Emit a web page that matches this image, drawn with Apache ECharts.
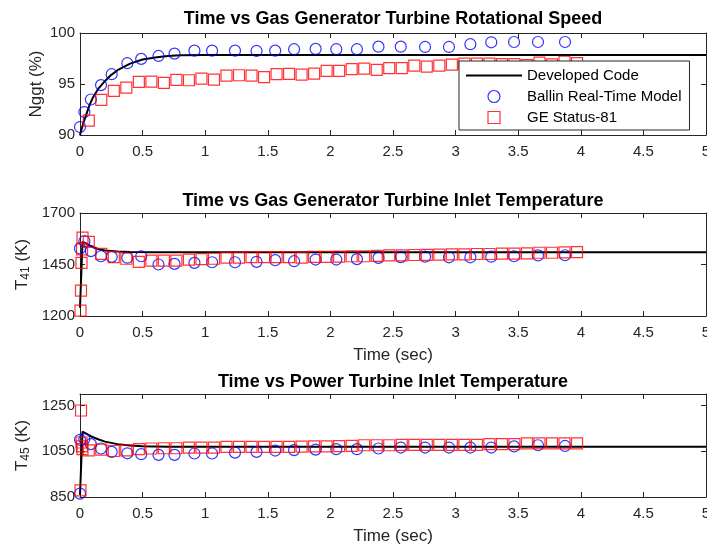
<!DOCTYPE html>
<html><head><meta charset="utf-8">
<script src="https://cdn.jsdelivr.net/npm/echarts@6/dist/echarts.min.js"></script>
<style>html,body{margin:0;padding:0;background:#fff}#c{width:707px;height:546px}</style>
</head><body><div id="c"></div>
<script>
const FONT = '"Liberation Sans", Arial, Helvetica, sans-serif';

// ---- titles / labels
const titles = ['Time vs Gas Generator Turbine Rotational Speed',
                'Time vs Gas Generator Turbine Inlet Temperature',
                'Time vs Power Turbine Inlet Temperature'];
const seriesNames = ['Developed Code', 'Ballin Real-Time Model', 'GE Status-81'];
const xTicks = [0, 0.5, 1, 1.5, 2, 2.5, 3, 3.5, 4, 4.5, 5];
const yTicks1 = [90, 95, 100];
const yTicks2 = [1200, 1450, 1700];
const yTicks3 = [850, 1050, 1250];

// ---- Developed Code (solid line)
const tCode1 = [0, 0.025, 0.05, 0.075, 0.1, 0.15, 0.2, 0.25, 0.3, 0.4, 0.5, 0.6, 0.7, 0.8, 1.0, 5.0];
const vCode1 = [90.0, 91.1, 92.0, 92.9, 93.6, 94.6, 95.3, 95.9, 96.35, 97.0, 97.4, 97.6, 97.75, 97.82, 97.85, 97.85];
const tCode2 = [0, 0.01, 0.02, 0.04, 0.06, 0.1, 0.15, 0.2, 0.3, 0.4, 0.6, 5.0];
const vCode2 = [1240, 1400, 1560, 1555, 1548, 1535, 1524, 1518, 1513, 1511, 1510, 1510];
const tCode3 = [0, 0.01, 0.02, 0.05, 0.1, 0.15, 0.2, 0.3, 0.4, 0.5, 0.7, 5.0];
const vCode3 = [860, 1000, 1135, 1127, 1112, 1101, 1092, 1081, 1075, 1072, 1070, 1070];

// ---- Ballin Real-Time Model (circles)
const tBall = [0, 0.035, 0.087, 0.168, 0.253, 0.378, 0.489, 0.627, 0.755, 0.914, 1.055, 1.238, 1.41, 1.559,
               1.71, 1.882, 2.047, 2.212, 2.384, 2.562, 2.756, 2.947, 3.118, 3.285, 3.467, 3.658, 3.874];
const vBall1 = [90.78, 92.25, 93.48, 94.89, 95.96, 97.04, 97.46, 97.75, 97.98, 98.27, 98.27, 98.27, 98.24, 98.27,
                98.41, 98.44, 98.41, 98.41, 98.66, 98.66, 98.63, 98.63, 98.9, 99.09, 99.12, 99.12, 99.12];
const vBall2 = [1528, 1563, 1515, 1490, 1487, 1483, 1490, 1450, 1453, 1458, 1461, 1461, 1463, 1471,
                1466, 1474, 1474, 1476, 1482, 1486, 1488, 1485, 1485, 1488, 1490, 1494, 1495];
const tBall3 = [0, 0, 0.035, 0.087, 0.168, 0.253, 0.378, 0.489, 0.627, 0.755, 0.914, 1.055, 1.238, 1.41, 1.559,
               1.71, 1.882, 2.047, 2.212, 2.384, 2.562, 2.756, 2.947, 3.118, 3.285, 3.467, 3.658, 3.874];
const vBall3 = [865, 1100, 1103, 1081, 1062, 1047, 1041, 1037, 1034, 1034, 1040, 1040, 1044, 1047, 1053,
                1055, 1057, 1059, 1059, 1062, 1066, 1066, 1066, 1066, 1066, 1071, 1076, 1073];

// ---- GE Status-81 (squares)
const tGE1 = [0.07, 0.17, 0.27, 0.37, 0.47, 0.57, 0.67, 0.77, 0.87, 0.97, 1.07, 1.17, 1.27, 1.37, 1.47, 1.57,
              1.67, 1.77, 1.87, 1.97, 2.07, 2.17, 2.27, 2.37, 2.47, 2.57, 2.67, 2.77, 2.87, 2.97, 3.07, 3.17,
              3.27, 3.37, 3.47, 3.57, 3.67, 3.77, 3.87, 3.97];
const vGE1 = [91.4, 93.45, 94.33, 94.65, 95.21, 95.24, 95.11, 95.4, 95.37, 95.53, 95.43, 95.83, 95.86, 95.83, 95.67, 95.96,
              95.99, 95.92, 96.02, 96.29, 96.29, 96.45, 96.51, 96.38, 96.55, 96.55, 96.8, 96.71, 96.8, 96.9, 97.0, 97.0,
              97.0, 96.95, 96.95, 96.85, 97.09, 96.92, 97.18, 97.05];
const tGE2 = [0.004, 0.008, 0.012, 0.016, 0.02, 0.07, 0.17, 0.27, 0.37, 0.47, 0.57, 0.67, 0.77, 0.87, 0.97, 1.07, 1.17, 1.27,
              1.37, 1.47, 1.57, 1.67, 1.77, 1.87, 1.97, 2.07, 2.17, 2.27, 2.37, 2.47, 2.57, 2.67, 2.77, 2.87, 2.97,
              3.07, 3.17, 3.27, 3.37, 3.47, 3.57, 3.67, 3.77, 3.87, 3.97];
const vGE2 = [1226, 1323, 1458, 1523, 1580, 1560, 1502, 1486, 1478, 1463, 1469, 1469, 1469, 1474, 1476, 1478, 1483, 1483,
              1486, 1486, 1486, 1486, 1483, 1487, 1487, 1488, 1490, 1490, 1492, 1494, 1494, 1496, 1497, 1498, 1499,
              1499, 1501, 1501, 1503, 1503, 1504, 1507, 1507, 1509, 1510];
const tGE3 = [0.004, 0.008, 0.012, 0.016, 0.02, 0.07, 0.17, 0.27, 0.37, 0.47, 0.57, 0.67, 0.77, 0.87, 0.97, 1.07, 1.17, 1.27,
              1.37, 1.47, 1.57, 1.67, 1.77, 1.87, 1.97, 2.07, 2.17, 2.27, 2.37, 2.47, 2.57, 2.67, 2.77, 2.87, 2.97,
              3.07, 3.17, 3.27, 3.37, 3.47, 3.57, 3.67, 3.77, 3.87, 3.97];
const vGE3 = [879, 1228, 1088, 1071, 1059, 1054, 1057, 1051, 1054, 1059, 1062, 1063, 1063, 1066, 1066, 1066, 1069, 1069,
              1069, 1069, 1069, 1069, 1070, 1071, 1071, 1072, 1073, 1076, 1076, 1076, 1078, 1078, 1078, 1078, 1078,
              1078, 1078, 1081, 1081, 1081, 1084, 1084, 1084, 1084, 1084];

const zip = (a, b) => a.map((t, i) => [t, b[i]]);
const AX = '#262626';

const grids = [
  {left: 80, right: 1, top: 33, height: 102, outerBoundsMode: 'none', containLabel: false},
  {left: 80, right: 1, top: 213, height: 103, outerBoundsMode: 'none', containLabel: false},
  {left: 80, right: 1, top: 394, height: 103, outerBoundsMode: 'none', containLabel: false}
];
const yRanges = [[90, 100], [1200, 1700], [850, 1300]];
const yTickSets = [yTicks1, yTicks2, yTicks3];
const yNames = ['Nggt (%)', '{t|T}{s|41}{t| (K)}', '{t|T}{s|45}{t| (K)}'];
const yNameGaps = [35, 48, 48];

const xAxes = [], yAxes = [];
grids.forEach((g, i) => {
  const base = {
    gridIndex: i, type: 'value', min: 0, max: 5, interval: 0.5,
    axisLine: {show: true, onZero: false, lineStyle: {color: AX, width: 1}},
    axisTick: {show: true, inside: true, length: 5, lineStyle: {color: AX}},
    splitLine: {show: false}
  };
  xAxes.push(Object.assign({}, base, {
    position: 'bottom',
    axisLabel: {show: true, fontSize: 15, color: AX, fontFamily: FONT, margin: 9,
                formatter: v => String(v), hideOverlap: false},
    name: i > 0 ? 'Time (sec)' : '', nameLocation: 'middle', nameGap: 31, nameMoveOverlap: false,
    nameTextStyle: {fontSize: 17, color: AX, fontFamily: FONT}
  }));
  xAxes.push(Object.assign({}, base, {position: 'top', axisLabel: {show: false}}));
  const ybase = {
    gridIndex: i, type: 'value', min: yRanges[i][0], max: yRanges[i][1],
    axisLine: {show: true, onZero: false, lineStyle: {color: AX, width: 1}},
    axisTick: {show: true, inside: true, length: 5, lineStyle: {color: AX}, customValues: yTickSets[i]},
    splitLine: {show: false}
  };
  yAxes.push(Object.assign({}, ybase, {
    position: 'left',
    axisLabel: {show: true, fontSize: 15, color: AX, fontFamily: FONT, margin: 5,
                customValues: yTickSets[i], formatter: v => String(v)},
    name: yNames[i], nameLocation: 'middle', nameGap: yNameGaps[i], nameMoveOverlap: false,
    nameTextStyle: {fontSize: 17, color: AX, fontFamily: FONT,
      rich: {t: {fontSize: 17, color: AX, fontFamily: FONT, verticalAlign: 'top', lineHeight: 18},
             s: {fontSize: 12, color: AX, fontFamily: FONT, verticalAlign: 'bottom', lineHeight: 12, padding: [9, 0, 0, 0]}}}
  }));
  yAxes.push(Object.assign({}, ybase, {position: 'right', axisLabel: {show: false}}));
});

const codeData = [zip(tCode1, vCode1), zip(tCode2, vCode2), zip(tCode3, vCode3)];
const ballData = [zip(tBall, vBall1), zip(tBall, vBall2), zip(tBall3, vBall3)];
const geData = [zip(tGE1, vGE1), zip(tGE2, vGE2), zip(tGE3, vGE3)];

const SQUARE = 'path://M0,0L10,0L10,10L0,10Z';
const series = [];
for (let i = 0; i < 3; i++) {
  series.push({type: 'line', name: seriesNames[0], xAxisIndex: 2 * i, yAxisIndex: 2 * i,
    data: codeData[i], symbol: 'none', lineStyle: {color: '#000', width: 2}, itemStyle: {color: '#000'},
    animation: false, z: 2});
  series.push({type: 'scatter', name: seriesNames[1], xAxisIndex: 2 * i, yAxisIndex: 2 * i,
    data: ballData[i], symbol: 'circle', symbolSize: 11,
    itemStyle: {color: 'rgba(0,0,0,0)', borderColor: '#0000ff', borderWidth: 1.2}, animation: false, z: 3});
  series.push({type: 'scatter', name: seriesNames[2], xAxisIndex: 2 * i, yAxisIndex: 2 * i,
    data: geData[i], symbol: 'rect', symbolSize: 11,
    itemStyle: {color: 'rgba(0,0,0,0)', borderColor: '#ff0000', borderWidth: 1.2}, animation: false, z: 4});
}

const titleY = [19, 201, 382];
const graphic = titles.map((t, i) => ({
  type: 'text', x: 393, y: titleY[i], z: 10,
  style: {text: t, fontSize: 18, fontWeight: 'bold', fontFamily: FONT, fill: '#000', align: 'center', verticalAlign: 'middle'}
}));

const chart = echarts.init(document.getElementById('c'), null, {renderer: 'canvas'});
chart.setOption({
  animation: false,
  backgroundColor: '#fff',
  grid: grids,
  xAxis: xAxes,
  yAxis: yAxes,
  series: series,
  graphic: graphic,
  legend: {
    orient: 'vertical', left: 459, top: 61, z: 20,
    padding: [7, 8, 5, 6], itemGap: 6, itemWidth: 56, itemHeight: 12,
    backgroundColor: '#fff', borderColor: AX, borderWidth: 1,
    textStyle: {fontSize: 15, color: '#000', fontFamily: FONT},
    data: [
      {name: seriesNames[0], itemStyle: {color: 'rgba(0,0,0,0)', borderWidth: 0, borderColor: 'rgba(0,0,0,0)'}},
      {name: seriesNames[1], icon: 'circle', itemStyle: {color: 'rgba(0,0,0,0)', borderColor: '#0000ff', borderWidth: 1.2}},
      {name: seriesNames[2], icon: SQUARE, itemStyle: {color: 'rgba(0,0,0,0)', borderColor: '#ff0000', borderWidth: 1.2}}
    ],
    selectedMode: false
  }
});
</script></body></html>
